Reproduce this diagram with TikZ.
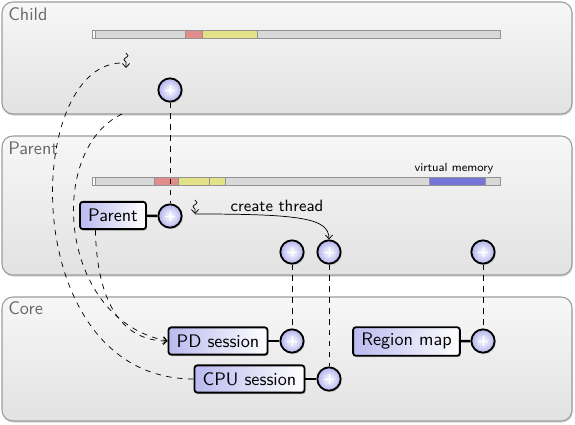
\documentclass[tikz,border=0pt]{standalone}
\usetikzlibrary{arrows.meta,positioning,shadows,calc,decorations.pathmorphing}
\renewcommand{\familydefault}{\sfdefault}

\definecolor{panelborder}{HTML}{9C9C9C}
\definecolor{paneltop}{HTML}{F7F7F7}
\definecolor{panelbot}{HTML}{E2E2E2}
\definecolor{labelgray}{HTML}{686868}
\definecolor{capblue}{HTML}{B2B2EE}
\definecolor{memgray}{HTML}{D8D8D8}
\definecolor{memred}{HTML}{E28C8C}
\definecolor{memyellow}{HTML}{E4E286}
\definecolor{memblue}{HTML}{7676D8}

\tikzset{
  panel/.style={draw=panelborder,line width=0.6pt,rounded corners=6pt,
    top color=paneltop,bottom color=panelbot,
    drop shadow={shadow xshift=0.4pt,shadow yshift=-0.9pt,opacity=0.35}},
  panellabel/.style={anchor=base west,inner sep=0pt,text=labelgray},
  session/.style={draw,line width=1pt,rounded corners=1.5pt,
    left color=capblue!90,right color=white,inner xsep=4.5pt,
    minimum height=15pt,
    drop shadow={shadow xshift=0.6pt,shadow yshift=-0.8pt,opacity=0.4}},
  capcircle/.style={circle,draw,line width=1pt,minimum size=12.8pt,inner sep=0pt,
    inner color=white,outer color=capblue,
    drop shadow={shadow xshift=0.6pt,shadow yshift=-0.8pt,opacity=0.4},
    path picture={\draw[white,line width=0.35pt]
      (path picture bounding box.center) ++(-2.8pt,0) -- ++(5.6pt,0)
      ++(-2.8pt,-2.8pt) -- ++(0,5.6pt);}},
  link/.style={line width=1.3pt},
  seg/.style={draw=gray!85,line width=0.4pt},
  thread/.style={->,decorate,decoration={snake,amplitude=1.1pt,
    segment length=4.5pt,post length=2.5pt}},
}

\begin{document}
\begin{tikzpicture}[x=0.55pt,y=-0.55pt,>={Straight Barb[length=2.2pt,width=4pt]}]
  \useasboundingbox (0,0) rectangle (575,424);

  \path[panel] (2,2) rectangle (572,114);
  \path[panel] (2,136) rectangle (572,275);
  \path[panel] (2,297) rectangle (572,421);
  \node[panellabel] (childlbl) at (8,20) {Child};
  \node[panellabel] (parentlbl) at (8,154) {Parent};
  \node[panellabel] (corelbl) at (8,314) {Core};

  \foreach \a/\b/\c in {92/95/white,95/185/memgray,185/202/memred,
      202/257/memyellow,257/500/memgray}
    \path[seg,fill=\c] (\a,30) rectangle (\b,38);
  \foreach \a/\b/\c in {92/95/white,95/154/memgray,154/178/memred,
      178/209/memyellow,209/225/memyellow,225/429/memgray,
      429/485/memblue,485/500/memgray}
    \path[seg,fill=\c] (\a,177) rectangle (\b,185);
  \node[font=\fontsize{6.5}{7}\selectfont] (vmlbl) at (454,169) {virtual memory};

  \node[capcircle] (childcap) at (170,90) {};
  \node[session] (parent) at (113,215.5) {Parent};
  \node[capcircle] (parentcap) at (170,216) {};
  \node[capcircle] (pdref) at (292,252) {};
  \node[capcircle] (cpuref) at (329,252) {};
  \node[capcircle] (rmref) at (483,252) {};

  \node[session] (pd) at (218,341) {PD session};
  \node[capcircle] (pdcap) at (292,341) {};
  \node[session] (cpu) at (249.5,379) {CPU session};
  \node[capcircle] (cpucap) at (329,379) {};
  \node[session] (rm) at (406.5,341.5) {Region map};
  \node[capcircle] (rmcap) at (483,341) {};

  \draw[link] (parent) -- (parentcap);
  \draw[link] (pd) -- (pdcap);
  \draw[link] (cpu) -- (cpucap);
  \draw[link] (rm) -- (rmcap);

  \draw[dashed] (childcap) -- (parentcap);
  \draw[dashed] (pdref) -- (pdcap);
  \draw[dashed] (cpuref) -- (cpucap);
  \draw[dashed] (rmref) -- (rmcap);

  \coordinate (thr1) at (126,53);
  \coordinate (fork1) at (120,63);
  \coordinate (childedge) at (122,114);
  \coordinate (thr2) at (195,200);
  \coordinate (thr2end) at (195,214);
  \draw[thread] (thr1) -- ++(0,15);
  \draw[thread] (thr2) -- (thr2end);

  \draw[dashed] (fork1) .. controls (22,68) and (18,379) .. (cpu.west);
  \draw[dashed,->] (childedge) .. controls (46,150) and (58,320) .. (pd.west);
  \draw[dashed,->] ($(parent.south west)!0.24!(parent.south east)$)
    .. controls (97,300) and (120,341) .. (pd.west);

  \draw[->] (thr2end) .. controls (300,214) and (329,218) .. (cpuref.north);
  \node[font=\small] (threadlbl) at (277,206) {create thread};
\end{tikzpicture}
\end{document}
